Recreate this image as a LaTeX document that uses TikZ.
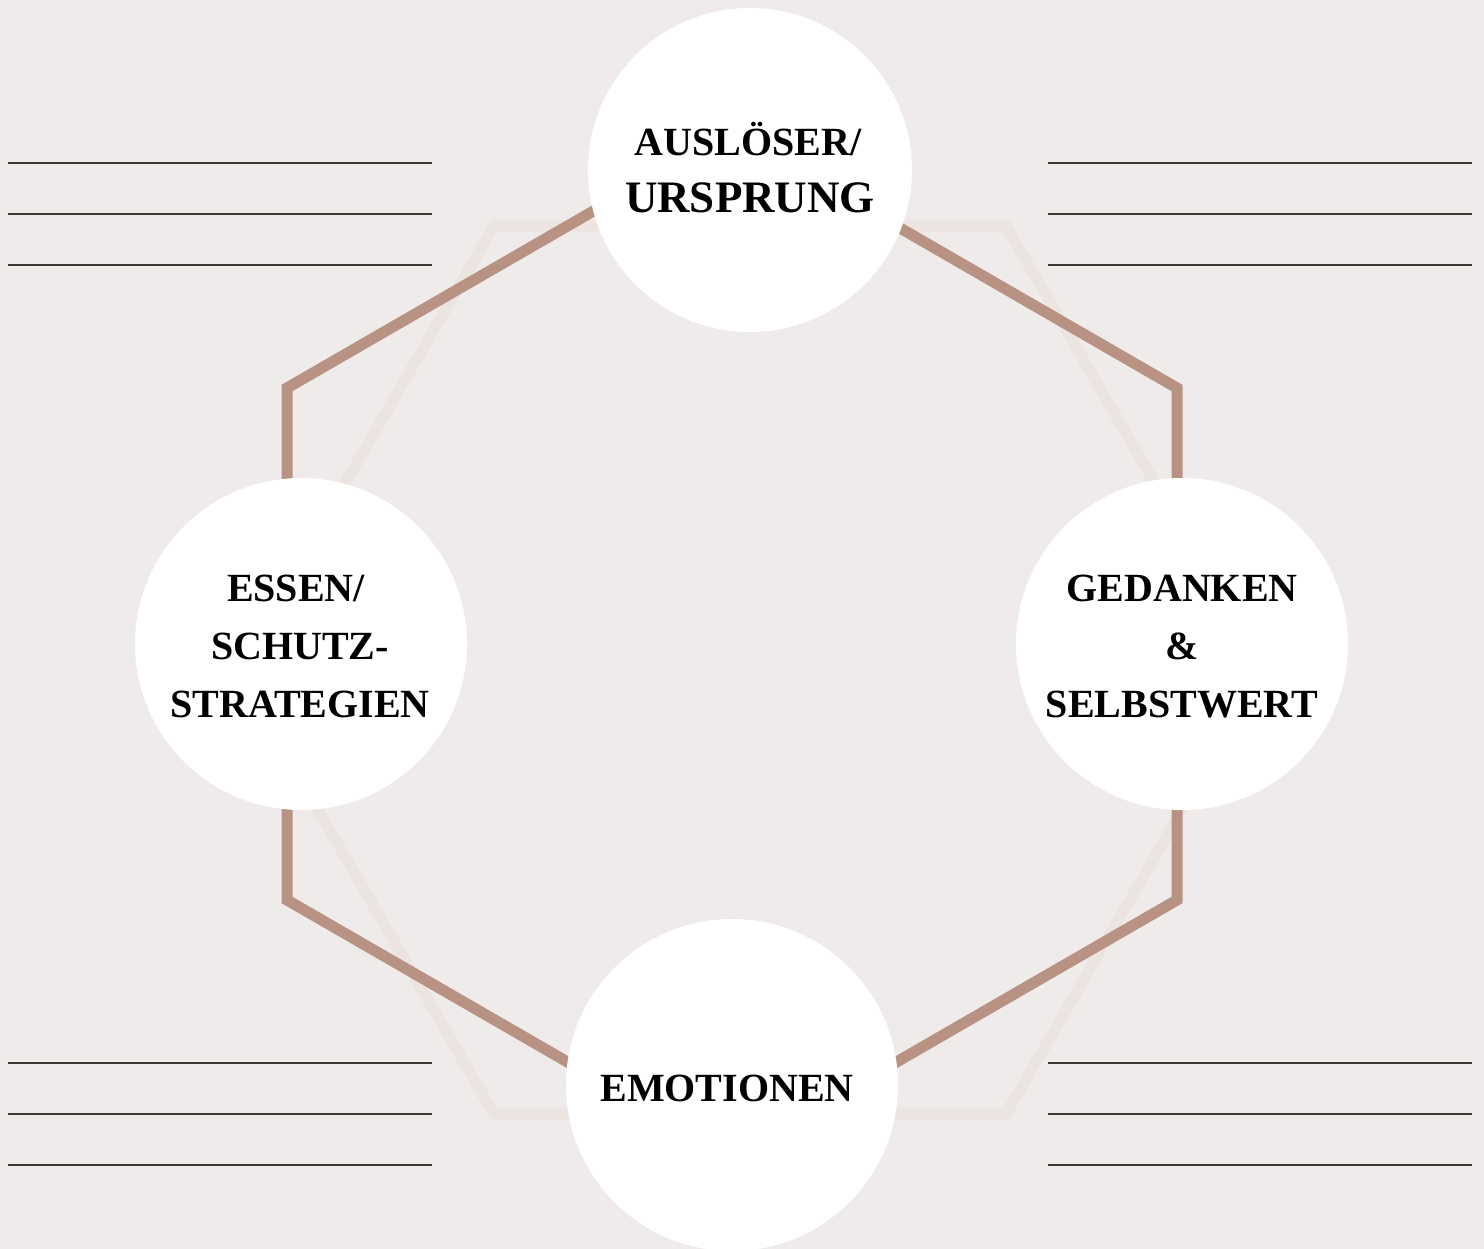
\documentclass[tikz,border=0pt]{standalone}
\usepackage{fontspec}
\setmainfont{Liberation Serif}
\definecolor{bgc}{RGB}{239,235,234}
\definecolor{brownc}{RGB}{184,147,131}
\definecolor{faintc}{RGB}{236,228,224}
\definecolor{rulec}{RGB}{61,54,52}
\tikzset{
  bubble/.style={circle,fill=white,draw=none,inner sep=0pt},
  lbl/.style={anchor=base,inner sep=0pt,font=\bfseries\fontsize{40}{40}\selectfont,text=black},
  lblbig/.style={lbl,font=\bfseries\fontsize{45}{45}\selectfont},
  ruleline/.style={draw=rulec,line width=2.4pt},
  hexbrown/.style={draw=brownc,line width=11pt,line join=miter},
  hexfaint/.style={draw=faintc,line width=11pt,line join=miter}
}
\begin{document}
\begin{tikzpicture}[x=1pt,y=-1pt]
\useasboundingbox (0,0) rectangle (1484,1249);
\clip (0,0) rectangle (1484,1249);
\fill[bgc] (0,0) rectangle (1484,1249);

% faint flat-top hexagon
\draw[hexfaint] (1263,670) -- (1006,226) -- (494,226) -- (237,670) -- (494,1114) -- (1006,1114) -- cycle;

% brown pointy-top hexagon
\coordinate (h1) at (732,131);
\coordinate (h2) at (1177,388);
\coordinate (h3) at (1177,900);
\coordinate (h4) at (732,1157);
\coordinate (h5) at (287,900);
\coordinate (h6) at (287,388);
\draw[hexbrown] (h1) -- (h2) -- (h3) -- (h4) -- (h5) -- (h6) -- cycle;

% writing lines
\foreach \y [count=\i] in {163,214,265,1063,1114,1165}{
  \coordinate (la\i) at (8,\y);
  \coordinate (lb\i) at (432,\y);
  \coordinate (ra\i) at (1048,\y);
  \coordinate (rb\i) at (1472,\y);
  \draw[ruleline] (la\i) -- (lb\i);
  \draw[ruleline] (ra\i) -- (rb\i);
}

% circles
\node[bubble,minimum size=324pt] (top) at (750,170) {};
\node[bubble,minimum size=332pt] (left) at (301,644) {};
\node[bubble,minimum size=332pt] (right) at (1182,644) {};
\node[bubble,minimum size=332pt] (bottom) at (732,1085) {};

% labels
\node[lbl] (t1) at (748,156) {AUSLÖSER/};
\node[lblbig] (t2) at (750,213) {URSPRUNG};

\node[lbl] (l1) at (296,601) {ESSEN/};
\node[lbl] (l2) at (300,659) {SCHUTZ-};
\node[lbl] (l3) at (300,717) {STRATEGIEN};

\node[lbl] (r1) at (1182,601) {GEDANKEN};
\node[lbl] (r2) at (1182,659) {\&};
\node[lbl] (r3) at (1182,717) {SELBSTWERT};

\node[lbl] (b1) at (727,1101) {EMOTIONEN};
\end{tikzpicture}
\end{document}
